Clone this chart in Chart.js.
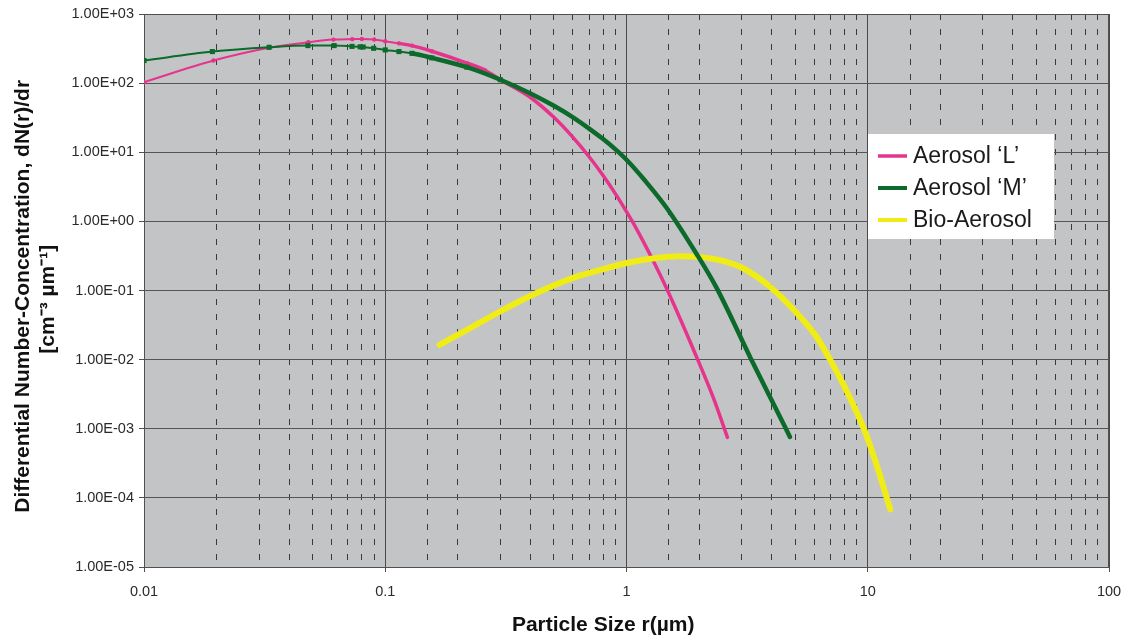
<!DOCTYPE html>
<html>
<head>
<meta charset="utf-8">
<title>Particle size distributions</title>
<script src="https://cdn.jsdelivr.net/npm/chart.js@4/dist/chart.umd.min.js"></script>
<style>
  body { margin: 0; background: #fff; }
  canvas { display: block; }
</style>
</head>
<body>
<canvas id="sizeChart" width="1125" height="638"></canvas>
<script>
// radius r in micrometres, dN(r)/dr in cm^-3 um^-1
var lSize = [0.01, 0.0194, 0.033, 0.048, 0.061, 0.073, 0.08, 0.09, 0.1, 0.114, 0.129, 0.156, 0.218, 0.258, 0.3,
             0.4, 0.5, 0.6, 0.7, 0.8, 0.9, 1.0, 1.1, 1.27, 1.47, 1.95, 2.3, 2.62];
var lConc = [103, 212, 325, 390, 426, 433, 435, 428, 403, 376, 349, 289, 195, 155, 112,
             62, 32, 16.4, 8.6, 4.6, 2.5, 1.38, 0.78, 0.30, 0.105, 0.011, 0.0027, 7.5e-4];

var mSize = [0.01, 0.0192, 0.033, 0.0478, 0.0614, 0.0728, 0.0787, 0.081, 0.0895, 0.1, 0.114, 0.129, 0.156, 0.218,
             0.3, 0.4, 0.5, 0.6, 0.7, 0.8, 0.9, 1.0, 1.2, 1.47, 1.95, 2.36, 3.27, 4.58, 4.76];
var mConc = [212, 286, 330, 349, 349, 340, 335, 333, 319, 302, 286, 270, 232, 170,
             112, 71, 47, 32, 22, 15.5, 11, 7.8, 3.8, 1.55, 0.34, 0.11, 0.0105, 0.001, 7.6e-4];

var bioSize = [0.168, 0.203, 0.3, 0.407, 0.6, 0.773, 1.0, 1.33, 1.66, 2.0, 2.43, 3.0, 4.0, 5.0,
               6.1, 6.98, 8.25, 9.75, 10.95, 12.4];
var bioConc = [0.0164, 0.0235, 0.050, 0.086, 0.152, 0.197, 0.25, 0.295, 0.312, 0.305, 0.275, 0.215, 0.108, 0.05,
               0.022, 0.01, 0.0033, 9e-4, 2.8e-4, 6.8e-5];

var seriesNames = ['Aerosol \u2018L\u2019', 'Aerosol \u2018M\u2019', 'Bio-Aerosol'];

var xTickLabels = ['0.01', '0.1', '1', '10', '100'];          // 1e-2 .. 1e2
var yTickLabels = ['1.00E-05', '1.00E-04', '1.00E-03', '1.00E-02', '1.00E-01',
                   '1.00E+00', '1.00E+01', '1.00E+02', '1.00E+03']; // 1e-5 .. 1e3

function points(xs, ys) {
    return xs.map(function (x, i) { return {x: x, y: ys[i]}; });
}

function isDecade(v) {
    var e = Math.log10(v);
    return Math.abs(e - Math.round(e)) < 1e-6;
}

// markers only show on the sparse small-radius end, the thick line hides the rest
function markerSize(r) {
    return function (c) { return c.parsed && c.parsed.x < 0.35 ? r : 0; };
}

// trailing no-break spaces nudge a centred title off the axis middle
function pad(n) { return '\u00a0'.repeat(n); }

var FONT = '"Liberation Sans", Arial, Helvetica, sans-serif';

// grey plotting area with a dark frame
var plotFrame = {
    id: 'plotFrame',
    beforeDraw: function (chart) {
        var a = chart.chartArea, ctx = chart.ctx;
        ctx.save();
        ctx.fillStyle = '#c3c4c6';
        ctx.fillRect(a.left, a.top, a.right - a.left, a.bottom - a.top);
        ctx.restore();
    },
    beforeDatasetsDraw: function (chart) {
        var a = chart.chartArea, ctx = chart.ctx;
        ctx.save();
        ctx.strokeStyle = '#505050';
        ctx.lineWidth = 1;
        ctx.strokeRect(a.left + 0.5, a.top + 0.5, a.right - a.left - 1, a.bottom - a.top);
        ctx.restore();
    }
};

// white legend box sitting inside the plot
var boxLegend = {
    id: 'boxLegend',
    afterDraw: function (chart) {
        var ctx = chart.ctx;
        var x = 868, y = 134, w = 186, h = 105;
        ctx.save();
        ctx.fillStyle = '#ffffff';
        ctx.fillRect(x, y, w, h);
        ctx.font = '23px ' + FONT;
        ctx.textBaseline = 'middle';
        chart.data.datasets.forEach(function (ds, i) {
            var rowY = y + 22 + i * 32;
            ctx.strokeStyle = ds.borderColor;
            ctx.lineWidth = Math.min(ds.borderWidth, 4);
            ctx.beginPath();
            ctx.moveTo(x + 10, rowY);
            ctx.lineTo(x + 39, rowY);
            ctx.stroke();
            ctx.fillStyle = '#1a1a1a';
            ctx.fillText(ds.label, x + 45, rowY + 1);
        });
        ctx.restore();
    }
};

var ctx = document.getElementById('sizeChart').getContext('2d');

var sizeChart = new Chart(ctx, {
    type: 'line',
    data: {
        datasets: [{
            label: seriesNames[0],
            data: points(lSize, lConc),
            borderColor: '#e6348c',
            backgroundColor: '#e6348c',
            borderWidth: 3.5,
            pointRadius: markerSize(2.2),
            pointBorderWidth: 0,
            order: 3,
            segment: {
                borderWidth: function (c) { return c.p0.parsed.x < 0.11 ? 2 : undefined; }
            }
        }, {
            label: seriesNames[1],
            data: points(mSize, mConc),
            borderColor: '#0c6a2b',
            backgroundColor: '#0c6a2b',
            borderWidth: 4.5,
            pointStyle: 'rect',
            pointRadius: markerSize(3.6),
            pointBorderWidth: 0,
            order: 1,
            segment: {
                borderWidth: function (c) { return c.p0.parsed.x < 0.12 ? 2 : undefined; }
            }
        }, {
            label: seriesNames[2],
            data: points(bioSize, bioConc),
            borderColor: '#f0ec16',
            backgroundColor: '#f0ec16',
            borderWidth: 6,
            pointRadius: 0,
            order: 2
        }]
    },
    options: {
        responsive: false,
        animation: false,
        devicePixelRatio: 1,
        layout: { padding: { top: 14, right: 16, left: 0, bottom: 0 } },
        elements: {
            line: { cubicInterpolationMode: 'monotone', borderCapStyle: 'round', borderJoinStyle: 'round' }
        },
        plugins: {
            legend: { display: false },
            tooltip: { enabled: false }
        },
        scales: {
            x: {
                type: 'logarithmic',
                min: 0.01,
                max: 100,
                afterFit: function (s) {
                    s.height = 71;
                    // end labels may hang over the plot edges
                    s.paddingLeft = 0;
                    s.paddingRight = 0;
                },
                ticks: {
                    autoSkip: false,
                    maxRotation: 0,
                    padding: 11,
                    color: '#2a2a2a',
                    font: { family: FONT, size: 14.5 },
                    callback: function (v) {
                        return isDecade(v) ? xTickLabels[Math.round(Math.log10(v)) + 2] : '';
                    }
                },
                grid: {
                    color: function (c) { return isDecade(c.tick.value) ? '#4a4a4a' : '#3a3a3a'; },
                    lineWidth: 1,
                    tickLength: 5,
                    tickColor: '#505050',
                    tickWidth: function (c) { return c.tick && isDecade(c.tick.value) ? 1 : 0; }
                },
                border: {
                    color: '#505050',
                    dash: function (c) { return c.tick && !isDecade(c.tick.value) ? [6, 9] : []; }
                },
                title: {
                    display: true,
                    text: 'Particle Size r(\u00b5m)' + pad(8),
                    color: '#111',
                    font: { family: FONT, size: 21, weight: 'bold', lineHeight: 1.2 },
                    padding: { top: 0, bottom: 0 }
                }
            },
            y: {
                type: 'logarithmic',
                min: 1e-5,
                max: 1e3,
                afterFit: function (s) { s.width = 144; },
                ticks: {
                    autoSkip: false,
                    padding: 5,
                    color: '#2a2a2a',
                    font: { family: FONT, size: 14.5 },
                    callback: function (v) {
                        return isDecade(v) ? yTickLabels[Math.round(Math.log10(v)) + 5] : '';
                    }
                },
                grid: {
                    color: '#555555',
                    lineWidth: function (c) { return isDecade(c.tick.value) ? 1 : 0; },
                    tickLength: 5,
                    tickColor: '#505050',
                    tickWidth: function (c) { return c.tick && isDecade(c.tick.value) ? 1 : 0; }
                },
                border: { color: '#505050' },
                title: {
                    display: true,
                    text: ['Differential Number-Concentration, dN(r)/dr' + pad(2),
                           '[cm\u207b\u00b3 \u00b5m\u207b\u00b9]' + pad(3)],
                    color: '#111',
                    font: { family: FONT, size: 21, weight: 'bold', lineHeight: 1.2 },
                    padding: { top: 10.5, bottom: 0 }
                }
            }
        }
    },
    plugins: [plotFrame, boxLegend]
});
</script>
</body>
</html>
